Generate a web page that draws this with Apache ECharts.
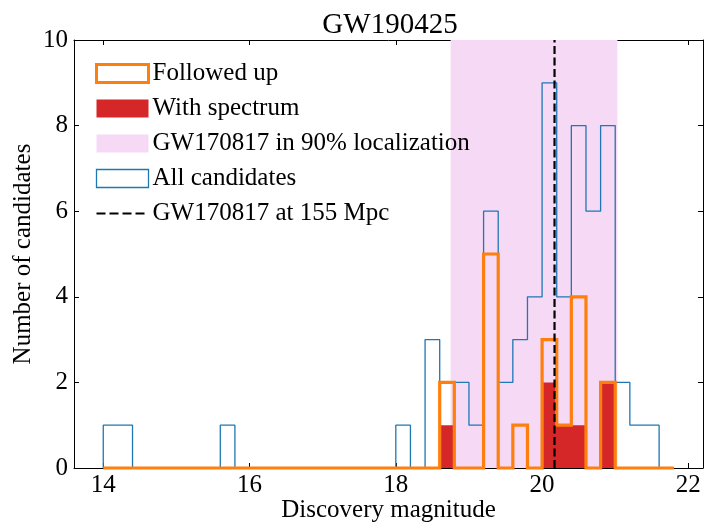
<!DOCTYPE html>
<html>
<head>
<meta charset="utf-8">
<script src="https://cdn.jsdelivr.net/npm/echarts@6/dist/echarts.min.js"></script>
<style>
  html, body { margin: 0; padding: 0; background: #fff; }
  #chart { width: 704px; height: 522px; }
</style>
</head>
<body>
<div id="chart"></div>
<script>
// ---- data ----
const binEdges = [14.0, 14.2, 14.4, 14.6, 14.8, 15.0, 15.2, 15.4, 15.6, 15.8,
                  16.0, 16.2, 16.4, 16.6, 16.8, 17.0, 17.2, 17.4, 17.6, 17.8,
                  18.0, 18.2, 18.4, 18.6, 18.8, 19.0, 19.2, 19.4, 19.6, 19.8,
                  20.0, 20.2, 20.4, 20.6, 20.8, 21.0, 21.2, 21.4, 21.6, 21.8];
const allCandidates = [1, 1, 0, 0, 0, 0, 0, 0, 1, 0,
                       0, 0, 0, 0, 0, 0, 0, 0, 0, 0,
                       1, 0, 3, 2, 2, 1, 6, 2, 3, 4,
                       9, 4, 8, 6, 8, 2, 1, 1, 0];
const followedUp =    [0, 0, 0, 0, 0, 0, 0, 0, 0, 0,
                       0, 0, 0, 0, 0, 0, 0, 0, 0, 0,
                       0, 0, 0, 2, 0, 0, 5, 0, 1, 0,
                       3, 1, 4, 0, 2, 0, 0, 0, 0];
const withSpectrum =  [0, 0, 0, 0, 0, 0, 0, 0, 0, 0,
                       0, 0, 0, 0, 0, 0, 0, 0, 0, 0,
                       0, 0, 0, 1, 0, 0, 0, 0, 0, 0,
                       2, 1, 1, 0, 2, 0, 0, 0, 0];
const localizationRange = [18.75, 21.03];   // GW170817 in 90% localization
const gw170817Mag = [20.17];                // GW170817 at 155 Mpc
const xTicks = [14, 16, 18, 20, 22];

// ---- helpers ----
function stepPoints(counts) {
  const pts = [[binEdges[0], 0]];
  for (let i = 0; i < counts.length; i++) {
    pts.push([binEdges[i], counts[i]]);
    pts.push([binEdges[i + 1], counts[i]]);
  }
  pts.push([binEdges[counts.length], 0]);
  return pts;
}

const FONT = '"Liberation Serif", "Times New Roman", serif';
const chart = echarts.init(document.getElementById('chart'), null, { renderer: 'canvas' });

const xCommon = {
  type: 'value', min: 13.6, max: 22.2,
  splitLine: { show: false },
  axisLine: { show: true, onZero: false, lineStyle: { color: '#000', width: 1 } },
  axisTick: { show: true, inside: true, length: 5, customValues: xTicks, lineStyle: { color: '#000' } },
  minorTick: { show: false }
};
const yCommon = {
  type: 'value', min: 0, max: 10, interval: 2,
  splitLine: { show: false },
  axisLine: { show: true, onZero: false, lineStyle: { color: '#000', width: 1 } },
  axisTick: { show: true, inside: true, length: 5, lineStyle: { color: '#000' } }
};

const option = {
  animation: false,
  backgroundColor: '#fff',
  textStyle: { fontFamily: FONT, color: '#000' },
  title: {
    text: 'GW190425',
    left: 385, top: 6, textAlign: 'center',
    textStyle: { fontFamily: FONT, fontSize: 29, fontWeight: 'normal', color: '#000' }
  },
  grid: { left: 74, right: 1, top: 40, bottom: 54, containLabel: false, outerBoundsMode: 'none' },
  xAxis: [
    Object.assign({}, xCommon, {
      position: 'bottom',
      name: 'Discovery magnitude', nameLocation: 'middle', nameGap: 30, nameMoveOverlap: false,
      nameTextStyle: { fontFamily: FONT, fontSize: 25, color: '#000' },
      axisLabel: { show: true, customValues: xTicks, margin: 5,
                   fontFamily: FONT, fontSize: 25, color: '#000' }
    }),
    Object.assign({}, xCommon, { position: 'top', axisLabel: { show: false } })
  ],
  yAxis: [
    Object.assign({}, yCommon, {
      position: 'left',
      name: 'Number of candidates', nameLocation: 'middle', nameGap: 38, nameMoveOverlap: false,
      nameTextStyle: { fontFamily: FONT, fontSize: 25, color: '#000' },
      axisLabel: { show: true, margin: 6, fontFamily: FONT, fontSize: 25, color: '#000' }
    }),
    Object.assign({}, yCommon, { position: 'right', axisLabel: { show: false } })
  ],
  legend: {
    orient: 'vertical', left: 95, top: 61, padding: 0,
    itemWidth: 52, itemHeight: 18, itemGap: 10,
    textStyle: { fontFamily: FONT, fontSize: 25, color: '#000', padding: [0, 0, 0, -1] },
    data: [
      { name: 'Followed up', icon: 'rect',
        itemStyle: { color: 'rgba(255,255,255,0)', borderColor: '#ff7f0e', borderWidth: 3 } },
      { name: 'With spectrum', icon: 'rect',
        itemStyle: { color: '#d62728', borderWidth: 0 } },
      { name: 'GW170817 in 90% localization', icon: 'rect',
        itemStyle: { color: '#f5d9f5', borderWidth: 0 } },
      { name: 'All candidates', icon: 'rect',
        itemStyle: { color: 'rgba(255,255,255,0)', borderColor: '#1f77b4', borderWidth: 1.3 } },
      { name: 'GW170817 at 155 Mpc',
        itemStyle: { color: 'rgba(0,0,0,0)', borderWidth: 0, opacity: 0 },
        lineStyle: { color: '#000', width: 2.2, type: [9, 4] } }
    ]
  },
  series: [
    {
      name: 'GW170817 in 90% localization', type: 'custom', z: 1,
      xAxisIndex: 0, yAxisIndex: 0,
      data: [[localizationRange[0], localizationRange[1]]],
      encode: { x: [0, 1] },
      itemStyle: { color: '#f5d9f5' },
      renderItem: function (params, api) {
        const p0 = api.coord([api.value(0), 10]);
        const p1 = api.coord([api.value(1), 0]);
        return { type: 'rect',
          shape: { x: p0[0], y: p0[1], width: p1[0] - p0[0], height: p1[1] - p0[1] },
          style: { fill: '#f5d9f5' } };
      }
    },
    {
      name: 'All candidates', type: 'line', z: 3, symbol: 'none', clip: false,
      data: stepPoints(allCandidates),
      itemStyle: { color: '#1f77b4' },
      lineStyle: { color: '#1f77b4', width: 1.3 }
    },
    {
      name: 'With spectrum', type: 'line', z: 4, symbol: 'none', clip: false,
      data: stepPoints(withSpectrum),
      itemStyle: { color: '#d62728' },
      lineStyle: { width: 0, color: '#d62728' },
      areaStyle: { color: '#d62728', opacity: 1, origin: 'start' }
    },
    {
      name: 'Followed up', type: 'line', z: 5, symbol: 'none', clip: false,
      data: stepPoints(followedUp),
      itemStyle: { color: '#ff7f0e' },
      lineStyle: { color: '#ff7f0e', width: 3.2, join: 'miter' }
    },
    {
      name: 'GW170817 at 155 Mpc', type: 'line', z: 6, symbol: 'none', clip: false,
      data: [[gw170817Mag[0], 0], [gw170817Mag[0], 10]],
      itemStyle: { color: '#000' },
      lineStyle: { color: '#000', width: 2.2, type: [8, 3.5] }
    }
  ]
};
chart.setOption(option);
</script>
</body>
</html>
